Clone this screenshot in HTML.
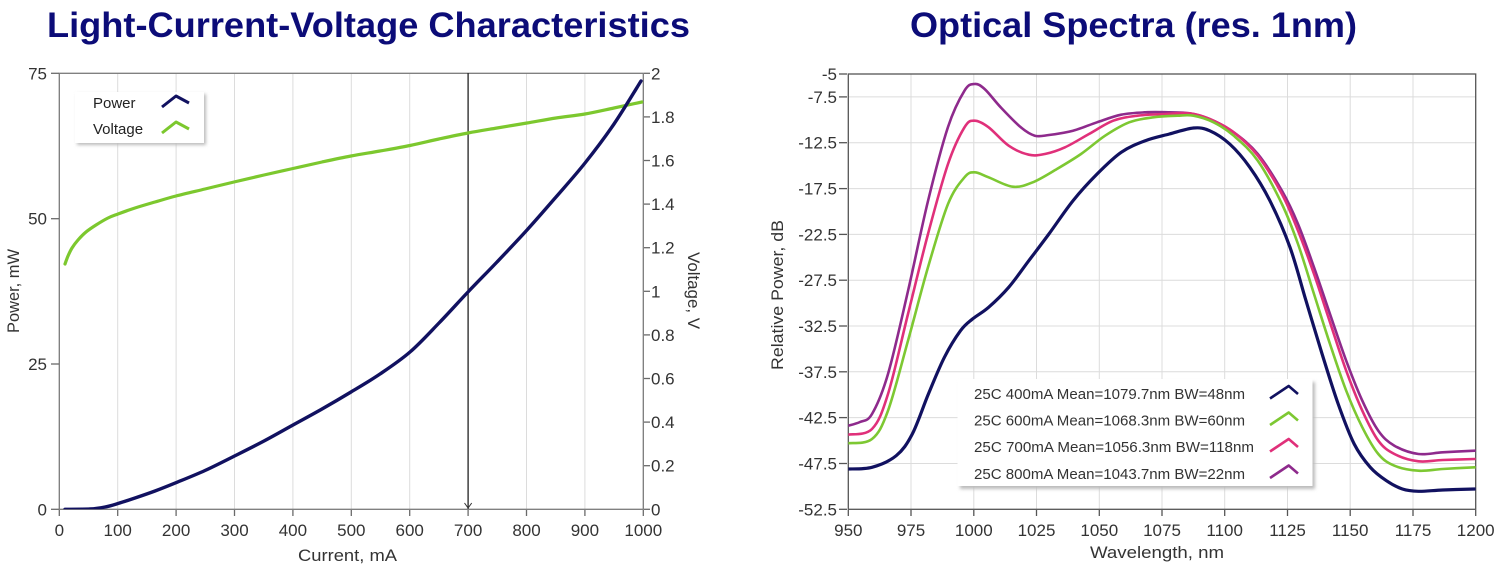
<!DOCTYPE html>
<html><head><meta charset="utf-8"><style>
html,body{margin:0;padding:0;background:#fff;}
svg{display:block;font-family:"Liberation Sans",Arial,sans-serif;}
</style></head><body>
<svg id="s" width="1503" height="579" viewBox="0 0 1503 579" xmlns="http://www.w3.org/2000/svg">
<defs>
<clipPath id="cl"><rect x="59.3" y="73" width="584" height="436.3"/></clipPath>
<clipPath id="cr"><rect x="848.3" y="74" width="627.4" height="435.3"/></clipPath>
<filter id="sh" x="-10%" y="-10%" width="130%" height="140%"><feGaussianBlur stdDeviation="1.5"/></filter>
</defs>
<rect width="1503" height="579" fill="#fff"/>

<!-- Titles -->
<text x="47" y="37" font-size="35" font-weight="bold" fill="#0c0c78" textLength="643" lengthAdjust="spacingAndGlyphs">Light-Current-Voltage Characteristics</text>
<text x="910" y="37" font-size="35" font-weight="bold" fill="#0c0c78" textLength="447" lengthAdjust="spacingAndGlyphs">Optical Spectra (res. 1nm)</text>

<!-- ===== LEFT CHART ===== -->
<g stroke="#dcdcdc" stroke-width="1">
<line x1="117.7" y1="73" x2="117.7" y2="509.3"/>
<line x1="176.1" y1="73" x2="176.1" y2="509.3"/>
<line x1="234.5" y1="73" x2="234.5" y2="509.3"/>
<line x1="292.9" y1="73" x2="292.9" y2="509.3"/>
<line x1="351.3" y1="73" x2="351.3" y2="509.3"/>
<line x1="409.7" y1="73" x2="409.7" y2="509.3"/>
<line x1="526.5" y1="73" x2="526.5" y2="509.3"/>
<line x1="584.9" y1="73" x2="584.9" y2="509.3"/>
</g>
<rect x="59.3" y="73.3" width="584" height="436" fill="none" stroke="#7a7a7a" stroke-width="1.3"/>
<g stroke="#6a6a6a" stroke-width="1.3">
<line x1="51" y1="73.3" x2="59" y2="73.3"/>
<line x1="51" y1="218.7" x2="59" y2="218.7"/>
<line x1="51" y1="364" x2="59" y2="364"/>
<line x1="51" y1="509.3" x2="59" y2="509.3"/>
<line x1="59.3" y1="510" x2="59.3" y2="516"/>
<line x1="117.7" y1="510" x2="117.7" y2="516"/>
<line x1="176.1" y1="510" x2="176.1" y2="516"/>
<line x1="234.5" y1="510" x2="234.5" y2="516"/>
<line x1="292.9" y1="510" x2="292.9" y2="516"/>
<line x1="351.3" y1="510" x2="351.3" y2="516"/>
<line x1="409.7" y1="510" x2="409.7" y2="516"/>
<line x1="468.1" y1="510" x2="468.1" y2="516"/>
<line x1="526.5" y1="510" x2="526.5" y2="516"/>
<line x1="584.9" y1="510" x2="584.9" y2="516"/>
<line x1="643.3" y1="510" x2="643.3" y2="516"/>
<line x1="644" y1="73.3" x2="650" y2="73.3"/>
<line x1="644" y1="116.9" x2="650" y2="116.9"/>
<line x1="644" y1="160.5" x2="650" y2="160.5"/>
<line x1="644" y1="204.1" x2="650" y2="204.1"/>
<line x1="644" y1="247.7" x2="650" y2="247.7"/>
<line x1="644" y1="291.3" x2="650" y2="291.3"/>
<line x1="644" y1="334.9" x2="650" y2="334.9"/>
<line x1="644" y1="378.5" x2="650" y2="378.5"/>
<line x1="644" y1="422.1" x2="650" y2="422.1"/>
<line x1="644" y1="465.7" x2="650" y2="465.7"/>
<line x1="644" y1="509.3" x2="650" y2="509.3"/>
</g>
<g font-size="17" fill="#333">
<g text-anchor="end">
<text x="47" y="79.3">75</text>
<text x="47" y="224.7">50</text>
<text x="47" y="370">25</text>
<text x="47" y="515.3">0</text>
</g>
<g text-anchor="middle">
<text x="59.3" y="536">0</text>
<text x="117.7" y="536">100</text>
<text x="176.1" y="536">200</text>
<text x="234.5" y="536">300</text>
<text x="292.9" y="536">400</text>
<text x="351.3" y="536">500</text>
<text x="409.7" y="536">600</text>
<text x="468.1" y="536">700</text>
<text x="526.5" y="536">800</text>
<text x="584.9" y="536">900</text>
<text x="643.3" y="536">1000</text>
</g>
<g>
<text x="651" y="79.3">2</text>
<text x="651" y="122.9">1.8</text>
<text x="651" y="166.5">1.6</text>
<text x="651" y="210.1">1.4</text>
<text x="651" y="253.7">1.2</text>
<text x="651" y="297.3">1</text>
<text x="651" y="340.9">0.8</text>
<text x="651" y="384.5">0.6</text>
<text x="651" y="428.1">0.4</text>
<text x="651" y="471.7">0.2</text>
<text x="651" y="515.3">0</text>
</g>
<text x="298" y="561" textLength="99" lengthAdjust="spacingAndGlyphs">Current, mA</text>
<text transform="translate(19,333) rotate(-90)" textLength="84" lengthAdjust="spacingAndGlyphs">Power, mW</text>
<text transform="translate(688,252) rotate(90)" textLength="77" lengthAdjust="spacingAndGlyphs">Voltage, V</text>
</g>

<line x1="468.1" y1="73" x2="468.1" y2="509" stroke="#222" stroke-width="1.3"/>
<polyline points="464.5,503 468.1,508 471.7,503" fill="none" stroke="#333" stroke-width="1"/>

<g clip-path="url(#cl)" fill="none" stroke-linejoin="round" stroke-linecap="round">
<polyline class="sm" stroke="#7cc82e" stroke-width="3.2" points="65,264 68,256 72,248 78,240 86,232 96,225 108,218 118,214 135,208 155,202 176,196 205,189 234,182 264,175 293,168.5 322,162 351,156 380,151 410,145.5 439,139 468,133 497,128 527,123 556,118 585,114 614,108 642,102"/>
<polyline class="sm" stroke="#111160" stroke-width="3.4" points="65,509.3 90,509 105,507 118,503.5 135,498 155,491 176,482.7 205,470.5 234.5,456 264,441 293,425 322,409 351,392 380,374 410,352 439,323 468,292 497,262 527,230 556,197 585,163 614,124 641,81"/>
</g>

<rect x="77" y="94" width="129" height="51" fill="#bbb" filter="url(#sh)"/>
<rect x="75" y="92" width="129" height="51" fill="#fff"/>
<g font-size="15" fill="#222">
<text x="93" y="108">Power</text>
<text x="93" y="134">Voltage</text>
</g>
<polyline points="162,107 176,96 189,103" fill="none" stroke="#111160" stroke-width="3" stroke-linejoin="round"/>
<polyline points="162,133 176,122 189,129" fill="none" stroke="#7cc82e" stroke-width="3" stroke-linejoin="round"/>

<!-- ===== RIGHT CHART ===== -->
<g stroke="#dcdcdc" stroke-width="1">
<line x1="911.0" y1="74" x2="911.0" y2="509.3"/>
<line x1="973.8" y1="74" x2="973.8" y2="509.3"/>
<line x1="1036.5" y1="74" x2="1036.5" y2="509.3"/>
<line x1="1099.3" y1="74" x2="1099.3" y2="509.3"/>
<line x1="1162.0" y1="74" x2="1162.0" y2="509.3"/>
<line x1="1224.7" y1="74" x2="1224.7" y2="509.3"/>
<line x1="1287.5" y1="74" x2="1287.5" y2="509.3"/>
<line x1="1350.2" y1="74" x2="1350.2" y2="509.3"/>
<line x1="1413.0" y1="74" x2="1413.0" y2="509.3"/>
<line x1="848.3" y1="96.9" x2="1475.7" y2="96.9"/>
<line x1="848.3" y1="142.7" x2="1475.7" y2="142.7"/>
<line x1="848.3" y1="188.6" x2="1475.7" y2="188.6"/>
<line x1="848.3" y1="234.4" x2="1475.7" y2="234.4"/>
<line x1="848.3" y1="280.2" x2="1475.7" y2="280.2"/>
<line x1="848.3" y1="326.0" x2="1475.7" y2="326.0"/>
<line x1="848.3" y1="371.8" x2="1475.7" y2="371.8"/>
<line x1="848.3" y1="417.6" x2="1475.7" y2="417.6"/>
<line x1="848.3" y1="463.5" x2="1475.7" y2="463.5"/>
</g>
<rect x="848.3" y="74" width="627.4" height="435.3" fill="none" stroke="#555" stroke-width="1.3"/>
<g stroke="#555" stroke-width="1.3">
<line x1="839" y1="74" x2="847" y2="74"/>
<line x1="839" y1="96.9" x2="847" y2="96.9"/>
<line x1="839" y1="142.7" x2="847" y2="142.7"/>
<line x1="839" y1="188.6" x2="847" y2="188.6"/>
<line x1="839" y1="234.4" x2="847" y2="234.4"/>
<line x1="839" y1="280.2" x2="847" y2="280.2"/>
<line x1="839" y1="326.0" x2="847" y2="326.0"/>
<line x1="839" y1="371.8" x2="847" y2="371.8"/>
<line x1="839" y1="417.6" x2="847" y2="417.6"/>
<line x1="839" y1="463.5" x2="847" y2="463.5"/>
<line x1="839" y1="509.3" x2="847" y2="509.3"/>
<line x1="848.3" y1="510" x2="848.3" y2="516"/>
<line x1="911.0" y1="510" x2="911.0" y2="516"/>
<line x1="973.8" y1="510" x2="973.8" y2="516"/>
<line x1="1036.5" y1="510" x2="1036.5" y2="516"/>
<line x1="1099.3" y1="510" x2="1099.3" y2="516"/>
<line x1="1162.0" y1="510" x2="1162.0" y2="516"/>
<line x1="1224.7" y1="510" x2="1224.7" y2="516"/>
<line x1="1287.5" y1="510" x2="1287.5" y2="516"/>
<line x1="1350.2" y1="510" x2="1350.2" y2="516"/>
<line x1="1413.0" y1="510" x2="1413.0" y2="516"/>
<line x1="1475.7" y1="510" x2="1475.7" y2="516"/>
</g>
<g font-size="17" fill="#333">
<g text-anchor="end">
<text x="837" y="80">-5</text>
<text x="837" y="102.9">-7.5</text>
<text x="837" y="148.7">-12.5</text>
<text x="837" y="194.6">-17.5</text>
<text x="837" y="240.4">-22.5</text>
<text x="837" y="286.2">-27.5</text>
<text x="837" y="332">-32.5</text>
<text x="837" y="377.8">-37.5</text>
<text x="837" y="423.6">-42.5</text>
<text x="837" y="469.5">-47.5</text>
<text x="837" y="515.3">-52.5</text>
</g>
<g text-anchor="middle">
<text x="848.3" y="536">950</text>
<text x="911.0" y="536">975</text>
<text x="973.8" y="536">1000</text>
<text x="1036.5" y="536">1025</text>
<text x="1099.3" y="536">1050</text>
<text x="1162.0" y="536">1075</text>
<text x="1224.7" y="536">1100</text>
<text x="1287.5" y="536">1125</text>
<text x="1350.2" y="536">1150</text>
<text x="1413.0" y="536">1175</text>
<text x="1475.7" y="536">1200</text>
</g>
<text x="1090" y="558" textLength="134" lengthAdjust="spacingAndGlyphs">Wavelength, nm</text>
<text transform="translate(783,370) rotate(-90)" textLength="150" lengthAdjust="spacingAndGlyphs">Relative Power, dB</text>
</g>

<g clip-path="url(#cr)" fill="none" stroke-linejoin="round" stroke-linecap="round">
<polyline class="sm" stroke="#8e2a8c" stroke-width="2.6" points="848,425.7 860,422 872,414 888,374 908,291 928,201 948,127 964.5,90.7 974.6,84 984.6,89 1000.7,107.3 1020.8,127.3 1034.8,135.7 1048.9,135 1073,130.7 1097,122.3 1121.2,114.7 1145.3,112.3 1169.4,112.3 1189.5,113.3 1209.6,119 1233.7,132.3 1257.8,154 1281.9,190.7 1298,224 1314,267.3 1330,314 1346.2,360.7 1362.3,400.7 1378.3,430.7 1394.4,445.7 1418.5,454 1442.6,452.3 1474.8,450.7"/>
<polyline class="sm" stroke="#e0307a" stroke-width="2.6" points="848,434.7 872,429 888,394 908,314 928,234 948,164 964.5,127.3 974.6,120.7 988.6,127.3 1008.7,145.7 1028.8,154.7 1044.9,154 1065,147.3 1089,134 1113.2,120.7 1137.3,115.7 1165.4,114 1189.5,113.3 1209.6,119 1233.7,132.3 1257.8,155.7 1281.9,194 1298,230.7 1314,274 1330,322.3 1346.2,370.7 1362.3,410.7 1378.3,440.7 1394.4,454 1418.5,461.3 1442.6,460 1474.8,459"/>
<polyline class="sm" stroke="#7dc832" stroke-width="2.6" points="848,443.3 872,439 888,410.7 908,340.7 928,267.3 948,204 964.5,177.3 974.6,172.3 988.6,177.3 1012.7,186.7 1032.8,182.3 1056.9,169 1081,154 1105.1,135.7 1129.2,122.3 1153.3,117.3 1177.4,115.7 1193.5,115.7 1213.6,122.3 1233.7,135.7 1257.8,160.7 1281.9,204 1298,244 1314,294 1330,344 1346.2,390.7 1362.3,427.3 1378.3,454 1394.4,465.7 1418.5,470.7 1442.6,469 1474.8,467.3"/>
<polyline class="sm" stroke="#111160" stroke-width="3.2" points="848,469 872,467.3 896.2,455.7 912.3,434 928.4,394 944.4,357.3 960.5,330.7 972.5,319 988.6,307.3 1008.7,287.3 1028.8,260.7 1048.9,234 1073,200.7 1097.1,174 1121.2,152.3 1145.3,140.7 1169.4,134 1193.5,128 1209.6,130.7 1229.7,144 1249.8,167.3 1269.9,200.7 1290,247.3 1306,300.7 1322.1,354 1338.2,404 1354.2,444 1370.3,467.3 1386.4,480.7 1402.4,489 1418.5,491.3 1442.6,490 1474.8,489"/>
</g>

<rect x="960" y="382" width="355" height="107" fill="#bbb" filter="url(#sh)"/>
<rect x="957.5" y="379" width="355" height="107" fill="#fff"/>
<g font-size="15" fill="#333">
<text x="974" y="398.8" textLength="271" lengthAdjust="spacingAndGlyphs">25C 400mA Mean=1079.7nm BW=48nm</text>
<text x="974" y="425.5" textLength="271" lengthAdjust="spacingAndGlyphs">25C 600mA Mean=1068.3nm BW=60nm</text>
<text x="974" y="452" textLength="280" lengthAdjust="spacingAndGlyphs">25C 700mA Mean=1056.3nm BW=118nm</text>
<text x="974" y="478.8" textLength="271" lengthAdjust="spacingAndGlyphs">25C 800mA Mean=1043.7nm BW=22nm</text>
</g>
<g fill="none" stroke-width="2.6" stroke-linejoin="round">
<polyline stroke="#111160" points="1270,398.5 1288.7,386 1298,394"/>
<polyline stroke="#7dc832" points="1270,425 1288.7,412.5 1298,420.5"/>
<polyline stroke="#e0307a" points="1270,451.5 1288.7,439 1298,447"/>
<polyline stroke="#8e2a8c" points="1270,478 1288.7,465.5 1298,473.5"/>
</g>
</svg>
<script>
(function(){
var NS="http://www.w3.org/2000/svg";
var pls=document.querySelectorAll("polyline.sm");
for(var k=0;k<pls.length;k++){
var pl=pls[k];
var pts=pl.getAttribute("points").trim().split(/\s+/).map(function(s){var a=s.split(",");return [parseFloat(a[0]),parseFloat(a[1])];});
var d="M"+pts[0][0]+","+pts[0][1];
for(var i=0;i<pts.length-1;i++){
var p0=pts[i>0?i-1:0],p1=pts[i],p2=pts[i+1],p3=pts[i+2<pts.length?i+2:pts.length-1];
var c1x=p1[0]+(p2[0]-p0[0])/6,c1y=p1[1]+(p2[1]-p0[1])/6;
var c2x=p2[0]-(p3[0]-p1[0])/6,c2y=p2[1]-(p3[1]-p1[1])/6;
d+=" C"+c1x.toFixed(2)+","+c1y.toFixed(2)+" "+c2x.toFixed(2)+","+c2y.toFixed(2)+" "+p2[0]+","+p2[1];
}
var p=document.createElementNS(NS,"path");
p.setAttribute("d",d);
["stroke","stroke-width"].forEach(function(a){p.setAttribute(a,pl.getAttribute(a));});
pl.parentNode.replaceChild(p,pl);
}
})();
</script>
</body></html>
